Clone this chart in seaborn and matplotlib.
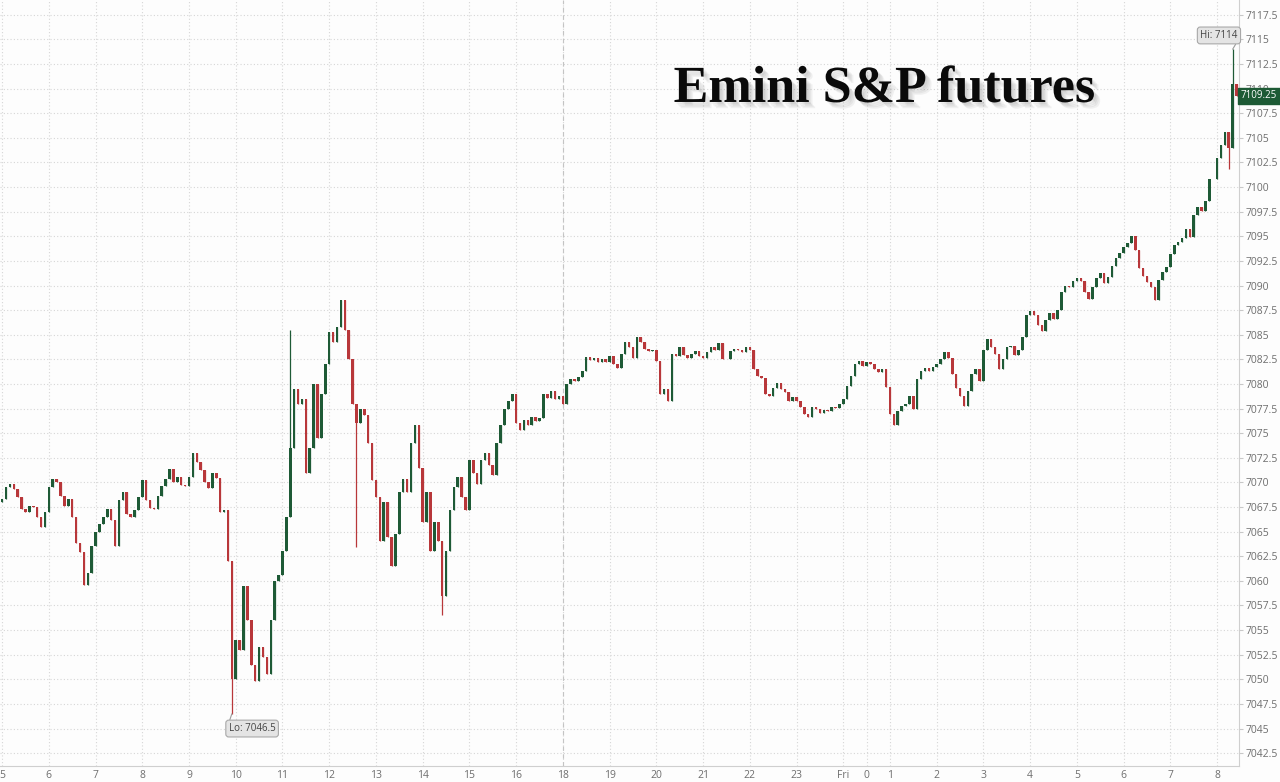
import numpy as np
import matplotlib
matplotlib.use("Agg")
import matplotlib.pyplot as plt
import matplotlib.patheffects as pe
import seaborn as sns

# 5-minute closes (session hours 5..16, 18..23, 0..8)
closes = [
    7068.3, 7069.5, 7069.8, 7069.3, 7068.5, 7067.3, 7067.0, 7067.6, 7067.5, 7066.5, 7065.5, 7067.0,
    7069.5, 7070.3, 7070.0, 7068.6, 7067.6, 7068.3, 7066.5, 7063.8, 7062.9, 7059.6, 7060.8, 7063.5,
    7065.0, 7065.8, 7066.5, 7067.3, 7066.2, 7063.5, 7068.2, 7069.0, 7066.8, 7066.5, 7067.2, 7068.5,
    7070.2, 7068.2, 7067.4, 7067.3, 7068.6, 7069.6, 7070.3, 7071.4, 7070.0, 7070.5, 7069.7, 7069.6,
    7070.5, 7073.0, 7072.1, 7071.3, 7070.0, 7069.4, 7071.0, 7070.4, 7067.0, 7067.2, 7062.0, 7050.0,
    7054.0, 7053.0, 7059.5, 7056.0, 7051.5, 7049.8, 7053.3, 7052.3, 7050.5, 7056.0, 7060.0, 7060.6,
    7063.0, 7066.5, 7073.5, 7079.5, 7078.0, 7078.5, 7071.0, 7073.5, 7080.0, 7074.5, 7079.0, 7082.0,
    7085.3, 7084.3, 7085.8, 7088.5, 7085.5, 7082.5, 7078.0, 7076.0, 7077.5, 7076.8, 7074.0, 7070.2,
    7068.5, 7064.0, 7068.0, 7064.5, 7061.5, 7064.8, 7069.0, 7070.3, 7069.0, 7074.0, 7075.8, 7071.5,
    7066.0, 7069.0, 7063.0, 7066.0, 7064.0, 7058.5, 7063.0, 7067.2, 7069.5, 7070.5, 7068.5, 7067.2,
    7072.3, 7071.0, 7069.8, 7072.3, 7073.0, 7071.8, 7070.8, 7074.0, 7075.8, 7077.5, 7078.3, 7079.0,
    7076.0, 7075.3, 7076.3, 7075.8, 7076.6, 7076.2, 7076.5, 7079.0, 7078.6, 7079.3, 7078.5, 7078.8,
    7078.0, 7080.0, 7080.5, 7080.3, 7080.7, 7081.3, 7082.7, 7082.4, 7082.6, 7082.2, 7082.5, 7082.2,
    7082.8, 7082.0, 7081.6, 7083.0, 7084.3, 7083.8, 7082.6, 7084.8, 7084.3, 7083.6, 7083.3, 7083.5,
    7082.3, 7079.0, 7079.5, 7078.3, 7083.0, 7082.8, 7083.8, 7082.9, 7082.6, 7083.0, 7083.3, 7082.8,
    7082.6, 7083.2, 7083.8, 7083.4, 7084.2, 7082.5, 7082.5, 7083.3, 7083.6, 7083.4, 7083.2, 7083.8,
    7083.5, 7081.5, 7080.8, 7080.6, 7079.0, 7078.8, 7079.6, 7080.1, 7079.5, 7079.2, 7078.3, 7078.7,
    7078.3, 7077.7, 7076.9, 7076.6, 7077.7, 7077.5, 7077.1, 7077.4, 7077.3, 7077.7, 7077.6, 7078.0,
    7078.5, 7079.8, 7080.8, 7082.0, 7082.3, 7081.8, 7082.2, 7082.0, 7081.5, 7081.2, 7081.5, 7079.7,
    7077.0, 7075.8, 7077.3, 7077.8, 7078.0, 7078.8, 7077.5, 7080.5, 7081.3, 7081.6, 7081.3, 7081.7,
    7082.0, 7082.5, 7083.2, 7082.6, 7081.0, 7079.6, 7078.8, 7077.8, 7079.3, 7081.0, 7081.5, 7080.3,
    7083.5, 7084.6, 7083.8, 7083.0, 7081.5, 7082.5, 7083.8, 7083.9, 7082.9, 7083.5, 7084.8, 7087.0,
    7087.4, 7087.0, 7086.0, 7085.4, 7086.5, 7087.2, 7086.6, 7087.5, 7089.3, 7090.0, 7089.8, 7090.5,
    7090.8, 7090.5, 7089.3, 7088.6, 7089.8, 7090.8, 7091.3, 7090.3, 7090.9, 7092.0, 7092.8, 7093.3,
    7093.9, 7094.3, 7095.0, 7093.6, 7091.8, 7091.0, 7090.4, 7089.8, 7088.5, 7090.6, 7091.4, 7091.9,
    7093.2, 7094.1, 7094.4, 7094.8, 7095.7, 7094.9, 7097.2, 7098.0, 7097.6, 7098.6, 7100.8, 7100.8,
    7103.0, 7104.3, 7105.6, 7104.0, 7110.5, 7109.25,
]
first_open = 7068.0

# long wicks visible on the chart: bar index -> price
wick_highs = {74: 7085.5, 316: 7114.0}
wick_lows = {59: 7046.5, 91: 7063.4, 113: 7056.5, 315: 7101.8}

hour_ticks = [0, 1, 2, 3, 4, 5, 6, 7, 8, 9, 10, 11, 12, 13, 14, 15, 16, 17,
              18, 18.5, 19, 20, 21, 22, 23, 24, 25, 26]
hour_labels = ["5", "6", "7", "8", "9", "10", "11", "12", "13", "14", "15", "16",
               "18", "19", "20", "21", "22", "23", "Fri", "0",
               "1", "2", "3", "4", "5", "6", "7", "8"]
session_break = 12
price_ticks = [7042.5 + 2.5 * k for k in range(31)]

hi_price = 7114
lo_price = 7046.5
last_price = 7109.25

GREEN = "#1e5a36"
RED = "#b8373a"

# --- prepare candles ---
closes = np.array(closes)
opens = np.concatenate([[first_open], closes[:-1]])
highs = np.maximum(opens, closes)
lows = np.minimum(opens, closes)
for k, v in wick_highs.items():
    highs[k] = v
for k, v in wick_lows.items():
    lows[k] = v
t = np.arange(len(closes)) / 12.0
colors = [GREEN if c >= o else RED for o, c in zip(opens, closes)]

# --- plot ---
sns.set_theme(style="white")
plt.rcParams["font.family"] = ["Open Sans", "DejaVu Sans"]

fig = plt.figure(figsize=(12.8, 7.82), dpi=100)
fig.patch.set_facecolor("#fdfdfd")
ax = fig.add_axes([0.0, 0.0205, 0.968, 0.9795])
ax.set_facecolor("#fdfdfd")

ax.vlines(t, lows, highs, colors=colors, linewidth=0.9, zorder=3)
ax.bar(t, np.abs(closes - opens), bottom=np.minimum(opens, closes),
       width=0.65 / 12, color=colors, linewidth=0, zorder=3)

ax.set_xlim(-0.045, 26.47)
ax.set_ylim(7041.2, 7119.0)

ax.set_xticks(hour_ticks)
ax.set_xticklabels(hour_labels)
ax.set_yticks(price_ticks)
ax.set_yticklabels([f"{v:g}" for v in price_ticks])
ax.yaxis.tick_right()
ax.tick_params(axis="both", colors="#c8c8c8", labelcolor="#6e6e6e",
               labelsize=7.5, length=3, width=0.8, pad=2, direction="out")
ax.tick_params(axis="x", pad=1, length=2)
ax.tick_params(axis="y", right=True, left=False)

ax.grid(True, color="#d6d6d6", linestyle=(0, (1, 2)), linewidth=0.8, zorder=0)
ax.axvline(session_break, color="#c4c4c4", linestyle=(0, (4, 3)),
           linewidth=0.8, zorder=1)

for side in ["top", "left"]:
    ax.spines[side].set_visible(False)
for side in ["right", "bottom"]:
    ax.spines[side].set_color("#cfcfcf")
    ax.spines[side].set_linewidth(0.8)

# hi / lo call-outs
box = dict(boxstyle="round,pad=0.3,rounding_size=0.3", fc="#e4e4e4", ec="#a8a8a8", lw=0.8)
ax.annotate(f"Hi: {hi_price:g}", xy=(t[316], hi_price), xytext=(26.04, 7115.4),
            ha="center", va="center", fontsize=7, color="#444444", bbox=box,
            arrowprops=dict(arrowstyle="-", color="#9a9a9a", lw=0.8,
                            relpos=(1.0, 0.0), shrinkA=0, shrinkB=0),
            zorder=6)
ax.annotate(f"Lo: {lo_price:g}", xy=(t[59], lo_price), xytext=(5.35, 7045.0),
            ha="center", va="center", fontsize=7, color="#444444", bbox=box,
            arrowprops=dict(arrowstyle="-", color="#9a9a9a", lw=0.8,
                            relpos=(0.0, 1.0), shrinkA=0, shrinkB=0),
            zorder=6)

# last price tag on the axis
ax.text(1.0015, last_price, f"{last_price:.2f}", transform=ax.get_yaxis_transform(),
        ha="left", va="center", fontsize=7, color="white", clip_on=False, zorder=10,
        bbox=dict(boxstyle="square,pad=0.25", fc="#1d5a35", ec="#1d5a35"))

# title with soft drop shadow
shadow = [pe.SimplePatchShadow(offset=(o, -o), shadow_rgbFace="#777777", alpha=0.09)
          for o in (1.5, 2.5, 3.5, 4.5)]
fig.text(0.691, 0.8696, "Emini S&P futures", ha="center", va="baseline",
         fontsize=37.5, fontweight="bold", family="Liberation Serif", color="#0a0a0a",
         path_effects=shadow + [pe.Normal()])

fig.savefig("out.png", dpi=100, facecolor=fig.get_facecolor())
